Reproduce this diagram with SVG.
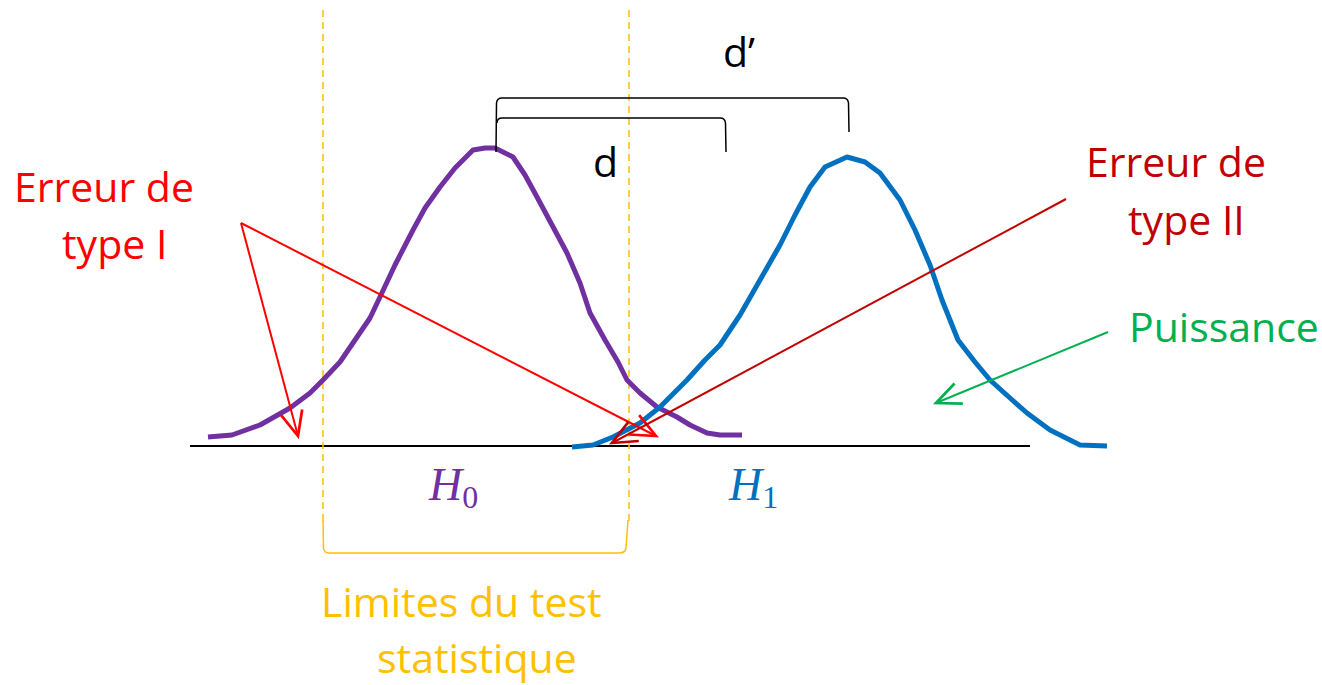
<svg xmlns="http://www.w3.org/2000/svg" width="1322" height="685" viewBox="0 0 1322 685">
<style>
.t{font-family:"Open Sans","Noto Sans",sans-serif;font-size:41px}
.m{font-family:"Liberation Serif",serif;font-style:italic}
.sub{font-style:normal}
.curve{fill:none;stroke-width:5;stroke-linejoin:round;stroke-linecap:butt}
.lim{fill:none;stroke:#FFC000;stroke-width:1.5}
.br{fill:none;stroke:#000;stroke-width:1.5}
</style>
<defs>
<marker id="ar" markerUnits="userSpaceOnUse" markerWidth="30" markerHeight="30" viewBox="-20 -10 22 20" refX="0" refY="0" orient="auto" overflow="visible"><path d="M-18,-8 L0,0 L-18,8" fill="none" stroke="#FF0000" stroke-width="2"/></marker>
<marker id="ad" markerUnits="userSpaceOnUse" markerWidth="30" markerHeight="30" viewBox="-20 -10 22 20" refX="0" refY="0" orient="auto" overflow="visible"><path d="M-18,-8 L0,0 L-18,8" fill="none" stroke="#C00000" stroke-width="2"/></marker>
<marker id="ag" markerUnits="userSpaceOnUse" markerWidth="30" markerHeight="30" viewBox="-20 -10 22 20" refX="0" refY="0" orient="auto" overflow="visible"><path d="M-18,-8 L0,0 L-18,8" fill="none" stroke="#00B050" stroke-width="2"/></marker>
</defs>
<rect width="1322" height="685" fill="#fff"/>

<g id="axis"><line x1="190" y1="446" x2="1030" y2="446" stroke="#000" stroke-width="2"/></g>

<g id="limits">
<line x1="323" y1="10" x2="323" y2="522" class="lim" stroke-dasharray="7,5"/>
<line x1="629" y1="10" x2="629" y2="522" class="lim" stroke-dasharray="7,5"/>
<path d="M323,520 L323.5,548 Q324,553 329,553 L620,553 Q625,553 626,548 L628,520" class="lim"/>
<text class="t" x="321" y="617" fill="#FFC000">Limites du test</text>
<text class="t" x="377" y="673" fill="#FFC000">statistique</text>
</g>

<g id="h0">
<polyline class="curve" stroke="#7030A0" points="208,437 232,435 260,425 290,408 310,393 323,380 340,362 355,340 370,318 380,297 395,265 413,230 425,208 440,187 455,168 473,150 485,148 495,148 513,157 525,175 537,197 552,225 567,253 580,283 590,313 605,340 618,362 627,380 640,393 657,407 677,417 690,425 707,433 720,435 742,435"/>
<text class="m" x="429" y="500" font-size="46" fill="#7030A0">H<tspan class="sub" font-size="32" dy="8">0</tspan></text>
</g>

<g id="h1">
<polyline class="curve" stroke="#0070C0" points="572,447 593,445 613,437 640,423 660,407 687,380 705,360 720,345 740,315 760,280 780,245 795,215 810,187 825,167 847,157 865,162 880,173 900,200 915,230 930,265 942,300 958,340 975,362 990,380 1010,398 1027,413 1050,430 1080,445 1107,446"/>
<text class="m" x="729" y="500" font-size="46" fill="#0070C0">H<tspan class="sub" font-size="32" dy="8">1</tspan></text>
</g>

<g id="brackets">
<path class="br" d="M496,152 L496.5,103 Q497,98 502,98 L843,98 Q848,98 848.5,103 L849,132"/>
<path class="br" d="M497,123 Q497,118 502,118 L720,118 Q725,118 725.5,123 L726,152"/>
<text class="t" x="723" y="67" fill="#000">d’</text>
<text class="t" x="593" y="177" fill="#000">d</text>
</g>

<g id="type1">
<text class="t" x="14" y="202" fill="#FF0000">Erreur de</text>
<text class="t" x="62" y="259" fill="#FF0000">type I</text>
</g>
<g id="type2">
<text class="t" x="1086" y="177" fill="#C00000">Erreur de</text>
<text class="t" x="1128" y="235" fill="#C00000">type II</text>
</g>
<g id="puissance">
<text class="t" x="1129" y="342" fill="#00B050">Puissance</text>
</g>

<g id="connectors">
<line x1="241" y1="223" x2="298" y2="436" stroke="#FF0000" stroke-width="2" marker-end="url(#ar)"/>
<line x1="241" y1="223" x2="656" y2="436" stroke="#FF0000" stroke-width="2" marker-end="url(#ar)"/>
<line x1="1066" y1="199" x2="612" y2="443" stroke="#C00000" stroke-width="2" marker-end="url(#ad)"/>
<line x1="1108" y1="332" x2="936" y2="403" stroke="#00B050" stroke-width="2" marker-end="url(#ag)"/>
</g>
</svg>
